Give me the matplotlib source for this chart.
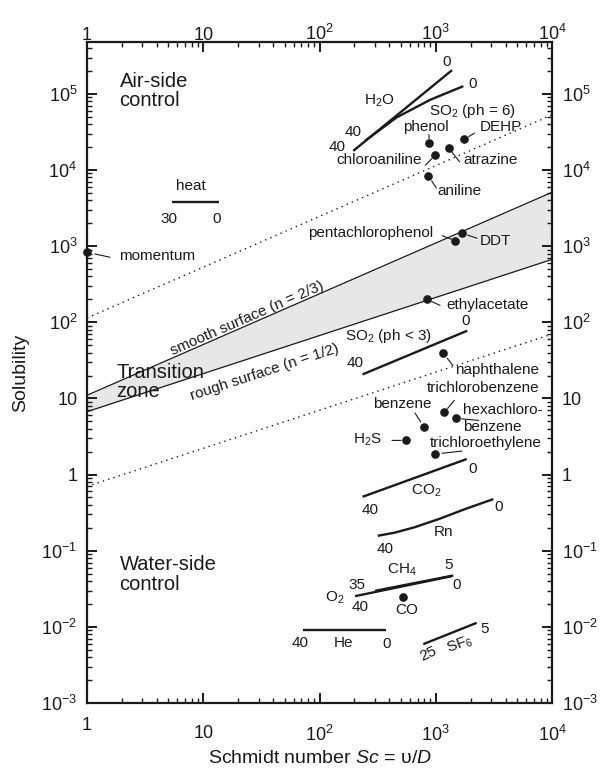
import matplotlib
matplotlib.use('Agg')
import matplotlib.pyplot as plt
import matplotlib.transforms as mtransforms

plt.rcParams['font.family'] = ['Liberation Sans', 'DejaVu Sans']
plt.rcParams['mathtext.fontset'] = 'custom'
plt.rcParams['mathtext.rm'] = 'Liberation Sans'
plt.rcParams['mathtext.it'] = 'Liberation Sans:italic'
plt.rcParams['mathtext.bf'] = 'Liberation Sans:bold'

ink = '#1a1a1a'

# ---- regime boundaries, given at Sc = 1 and Sc = 1e4 ----
edge_sc = [1, 1e4]
smooth_sol = [11, 5100]          # smooth surface, n = 2/3
rough_sol = [6.7, 670]           # rough surface, n = 1/2
air_limit_sol = [114, 53000]     # dotted, air-side control limit
water_limit_sol = [0.7, 70]      # dotted, water-side control limit

# ---- single compounds (dots) ----
point_names = ['phenol', 'chloroaniline', 'atrazine', 'aniline', 'DEHP',
               'pentachlorophenol', 'DDT', 'momentum', 'ethylacetate',
               'naphthalene', 'trichlorobenzene', 'hexachlorobenzene',
               'benzene', 'H2S', 'trichloroethylene', 'CO']
point_sc = [875, 991, 1292, 863, 1767, 1473, 1682, 1, 841,
            1154, 1185, 1485, 792, 555, 985, 526]
point_sol = [22900, 15650, 19500, 8365, 25470, 1181, 1478, 832, 200,
             39.9, 6.57, 5.47, 4.21, 2.81, 1.86, 0.0248]

# ---- temperature ranges (lines, first point = warm end) ----
h2o_sc = [195, 1380]
h2o_sol = [17800, 204700]
so2_ph6_sc = [246, 461, 893, 1726]
so2_ph6_sol = [24100, 49100, 83400, 126300]
so2_ph3_sc = [235, 1868]
so2_ph3_sol = [20.7, 77.6]
co2_sc = [235, 1846]
co2_sol = [0.511, 1.60]
rn_sc = [317, 446, 663, 1088, 1785, 3126]
rn_sol = [0.157, 0.173, 0.204, 0.264, 0.352, 0.476]
o2_sc = [202, 1371]
o2_sol = [0.0253, 0.0463]
ch4_sc = [300, 1416]
ch4_sol = [0.0297, 0.0473]
he_sc = [72.6, 373]
he_sol = [0.00905, 0.00905]
sf6_sc = [782, 2250]
sf6_sol = [0.00593, 0.0113]
heat_sc = [5.42, 13.7]
heat_sol = [3810, 3810]

fig = plt.figure(figsize=(6.06, 7.70), dpi=100)
ax = fig.add_axes([87 / 606, 67 / 770, 465 / 606, 661 / 770])
ax.set_xscale('log')
ax.set_yscale('log')
ax.set_xlim(1, 1e4)
ax.set_ylim(1e-3, 4.8e5)

# transition zone band and its limits
ax.fill_between(edge_sc, rough_sol, smooth_sol, color='#e6e7e8', lw=0)
ax.plot(edge_sc, smooth_sol, color=ink, lw=0.9)
ax.plot(edge_sc, rough_sol, color=ink, lw=0.9)
ax.plot(edge_sc, air_limit_sol, color=ink, lw=1.0, ls=(0, (1, 3)))
ax.plot(edge_sc, water_limit_sol, color=ink, lw=1.0, ls=(0, (1, 3)))

ax.text(24.0, 114, 'smooth surface (n = 2/3)', rotation=23.6, fontsize=11,
        ha='center', va='center', color=ink, rotation_mode='anchor')
ax.text(34, 21.9, 'rough surface (n = 1/2)', rotation=18.1, fontsize=11,
        ha='center', va='center', color=ink, rotation_mode='anchor')
ax.text(1.78, 16.2, 'Transition\nzone', fontsize=14.5, ha='left', va='center',
        color=ink, linespacing=1.0)
ax.text(0.07, 0.926, 'Air-side\ncontrol', transform=ax.transAxes, fontsize=14.5,
        ha='left', va='center', color=ink, linespacing=1.05)
ax.text(0.07, 0.194, 'Water-side\ncontrol', transform=ax.transAxes, fontsize=14.5,
        ha='left', va='center', color=ink, linespacing=1.05)

# species lines
species = [
    (h2o_sc, h2o_sol), (so2_ph6_sc, so2_ph6_sol), (so2_ph3_sc, so2_ph3_sol),
    (co2_sc, co2_sol), (rn_sc, rn_sol), (o2_sc, o2_sol), (ch4_sc, ch4_sol),
    (he_sc, he_sol), (sf6_sc, sf6_sol), (heat_sc, heat_sol),
]
for xs, ys in species:
    ax.plot(xs, ys, color=ink, lw=1.7, solid_capstyle='butt')

def tag(text, x, y, dx, dy, **kw):
    kw.setdefault('ha', 'center')
    kw.setdefault('va', 'center')
    ax.annotate(text, xy=(x, y), xytext=(dx, dy), textcoords='offset pixels',
                fontsize=11, color=ink, **kw)

# labels at line ends: (text, series, point index, dx, dy)
line_tags = [
    ('40', h2o_sc, h2o_sol, 0, -16, 4), ('0', h2o_sc, h2o_sol, -1, -5, 8),
    ('H$_2$O', h2o_sc, h2o_sol, -1, -73, -31),
    ('40', so2_ph6_sc, so2_ph6_sol, 0, -12, 9),
    ('0', so2_ph6_sc, so2_ph6_sol, -1, 9, 2),
    ('SO$_2$ (ph = 6)', so2_ph6_sc, so2_ph6_sol, -1, 9, -25),
    ('0', so2_ph3_sc, so2_ph3_sol, -1, -2, 10),
    ('40', so2_ph3_sc, so2_ph3_sol, 0, -8, 11),
    ('SO$_2$ (ph < 3)', so2_ph3_sc, so2_ph3_sol, 0, 26, 38),
    ('0', co2_sc, co2_sol, -1, 6, -10), ('40', co2_sc, co2_sol, 0, 7, -13),
    ('CO$_2$', co2_sc, co2_sol, 0, 64, 6),
    ('40', rn_sc, rn_sol, 0, 7, -13), ('0', rn_sc, rn_sol, -1, 5, -8),
    ('Rn', rn_sc, rn_sol, 0, 66, 4),
    ('35', ch4_sc, ch4_sol, 0, -18, 6), ('40', o2_sc, o2_sol, 0, 5, -11),
    ('O$_2$', o2_sc, o2_sol, 0, -20, -2), ('CH$_4$', ch4_sc, ch4_sol, 0, 27, 21),
    ('5', ch4_sc, ch4_sol, -1, -5, 10), ('0', o2_sc, o2_sol, -1, 5, -9),
    ('40', he_sc, he_sol, 0, -3, -13), ('He', he_sc, he_sol, 0, 40, -13),
    ('0', he_sc, he_sol, -1, 1, -14),
    ('5', sf6_sc, sf6_sol, -1, 8, -6),
    ('heat', heat_sc, heat_sol, 0, 19, 16), ('30', heat_sc, heat_sol, 0, -3, -17),
    ('0', heat_sc, heat_sol, -1, -3, -17),
]
for text, xs, ys, i, dx, dy in line_tags:
    tag(text, xs[i], ys[i], dx, dy)
tag('25', sf6_sc[0], sf6_sol[0], 5, -10, rotation=25)
tag('SF$_6$', sf6_sc[0], sf6_sol[0], 37, -1, rotation=20)

# compound dots with leader lines
ax.plot(point_sc, point_sol, 'o', ls='none', color=ink, ms=5.2,
        clip_on=False, zorder=5)

# name: (label, text dx, dy, ha, leader start dx, dy, gap px)
point_tags = {
    'phenol': ('phenol', -3, 16, 'center', 0, 8, 4),
    'chloroaniline': ('chloroaniline', -13, -5, 'right', -10, -10, 5),
    'atrazine': ('atrazine', 15, -12, 'left', 11, -14, 5),
    'aniline': ('aniline', 9, -15, 'left', 8, -12, 6),
    'DEHP': ('DEHP', 15, 12, 'left', 10, 6, 5),
    'pentachlorophenol': ('pentachlorophenol', -22, 8, 'right', -13, 5, 4),
    'DDT': ('DDT', 18, -8, 'left', 15, -5, 6),
    'momentum': ('momentum', 32, -4, 'left', 23, -5, 8),
    'ethylacetate': ('ethylacetate', 19, -6, 'left', 13, -6, 5),
    'naphthalene': ('naphthalene', 12, -17, 'left', 10, -13, 7),
    'trichlorobenzene': ('trichlorobenzene', -18, 24, 'left', 10, 12, 5),
    'hexachlorobenzene': ('hexachloro-\nbenzene', 7, 0, 'left', 23, -2, 6),
    'benzene': ('benzene', -22, 23, 'center', -9, 14, 6),
    'H2S': ('H$_2$S', -39, 1, 'center', -14, 0, 5),
    'trichloroethylene': ('trichloroethylene', -5, 11, 'left', 27, 3, 7),
    'CO': ('CO', 3, -13, 'center', None, None, None),
}
for name, x, y in zip(point_names, point_sc, point_sol):
    label, dx, dy, ha, lx, ly, gap = point_tags[name]
    tag(label, x, y, dx, dy, ha=ha, linespacing=1.3)
    if lx is not None:
        ax.annotate('', xy=(x, y), xytext=(lx, ly), textcoords='offset pixels',
                    arrowprops=dict(arrowstyle='-', color=ink, lw=0.8,
                                    shrinkA=0, shrinkB=gap * 0.72))

# axes, ticks
decades_x = [1, 10, 100, 1000, 10000]
decades_y = [1e-3, 1e-2, 1e-1, 1, 10, 100, 1e3, 1e4, 1e5]
ax.set_xticks(decades_x)
ax.set_xticklabels(['1', '10', '$\\mathregular{10^2}$', '$\\mathregular{10^3}$',
                    '$\\mathregular{10^4}$'])
ax.set_yticks(decades_y)
ax.set_yticklabels(['$\\mathregular{10^{-3}}$', '$\\mathregular{10^{-2}}$',
                    '$\\mathregular{10^{-1}}$', '1', '10',
                    '$\\mathregular{10^2}$', '$\\mathregular{10^3}$',
                    '$\\mathregular{10^4}$', '$\\mathregular{10^5}$'])
ax.tick_params(which='both', direction='in', top=True, right=True,
               labeltop=True, labelright=True, labelsize=13, colors=ink)
ax.tick_params(which='major', length=7, width=1.4, pad=7)
ax.tick_params(which='minor', length=3.5, width=1.0)
for s in ax.spines.values():
    s.set_linewidth(1.6)
    s.set_color(ink)

# bottom tick labels sit lower than the top ones ("1" a little higher)
for i, lbl in enumerate(ax.get_xticklabels()):
    drop = 4 if i == 0 else 12
    lbl.set_transform(lbl.get_transform() + mtransforms.ScaledTranslation(
        0, -drop / 100, fig.dpi_scale_trans))

ax.set_xlabel('Schmidt number $\\it{Sc}$ = υ/$\\it{D}$', fontsize=14, color=ink,
              labelpad=4)
ax.set_ylabel('Solubility', fontsize=14, color=ink, labelpad=9)

fig.savefig('out.png', dpi=100)
